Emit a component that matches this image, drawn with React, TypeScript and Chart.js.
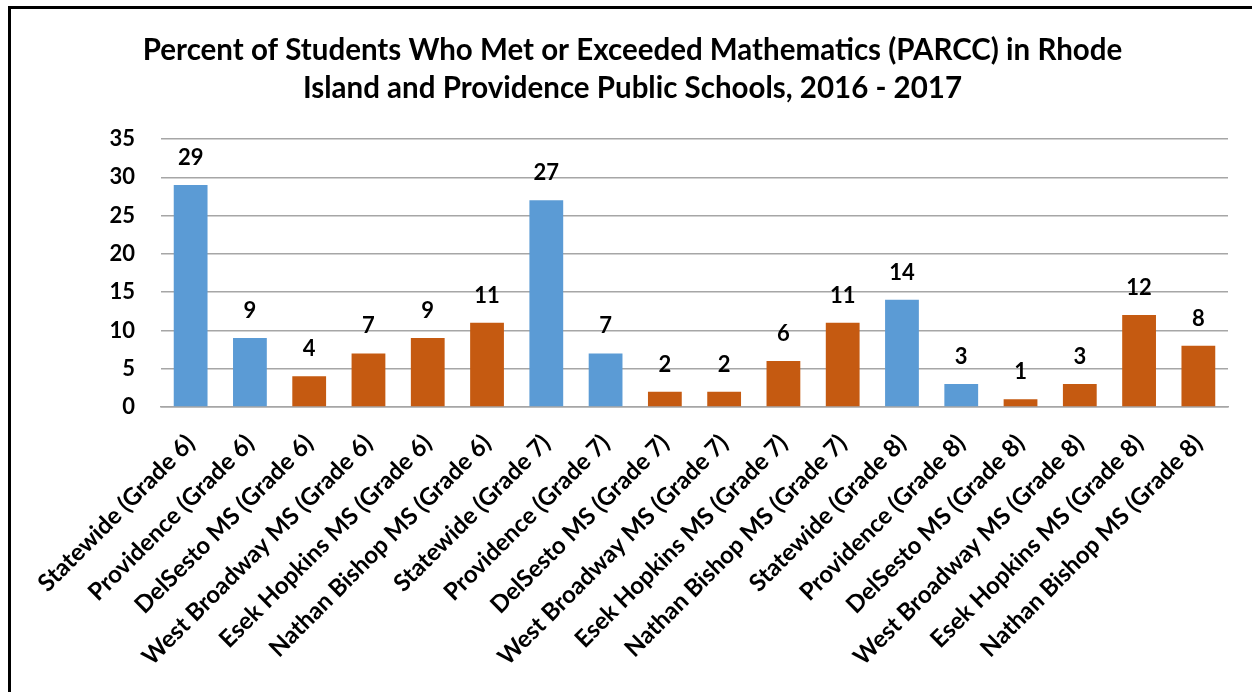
import { useEffect, useRef } from "react";
import { Chart, registerables } from "chart.js";

Chart.register(...registerables);

const titleLines = [
  "Percent of Students Who Met or Exceeded Mathematics (PARCC) in Rhode",
  "Island and Providence Public Schools, 2016 - 2017",
];

const categories = [
  "Statewide (Grade 6)",
  "Providence (Grade 6)",
  "DelSesto MS (Grade 6)",
  "West Broadway MS (Grade 6)",
  "Esek Hopkins MS (Grade 6)",
  "Nathan Bishop MS (Grade 6)",
  "Statewide (Grade 7)",
  "Providence (Grade 7)",
  "DelSesto MS (Grade 7)",
  "West Broadway MS (Grade 7)",
  "Esek Hopkins MS (Grade 7)",
  "Nathan Bishop MS (Grade 7)",
  "Statewide (Grade 8)",
  "Providence (Grade 8)",
  "DelSesto MS (Grade 8)",
  "West Broadway MS (Grade 8)",
  "Esek Hopkins MS (Grade 8)",
  "Nathan Bishop MS (Grade 8)",
];

const values = [29, 9, 4, 7, 9, 11, 27, 7, 2, 2, 6, 11, 14, 3, 1, 3, 12, 8];

const yMin = 0;
const yMax = 35;
const yStep = 5;

const BLUE = "#5B9BD5";
const ORANGE = "#C55A11";
const FONT = "Lato, 'Open Sans', sans-serif";

const barColors = categories.map((c) =>
  c.startsWith("Statewide") || c.startsWith("Providence") ? BLUE : ORANGE
);

const valueLabels = {
  id: "valueLabels",
  afterDatasetsDraw(chart: any) {
    const ctx = chart.ctx;
    const meta = chart.getDatasetMeta(0);
    ctx.save();
    ctx.font = `bold 22px ${FONT}`;
    ctx.fillStyle = "#000";
    ctx.textAlign = "center";
    ctx.textBaseline = "middle";
    meta.data.forEach((bar: any, i: number) => {
      ctx.fillText(String(values[i]), bar.x, bar.y - 27);
    });
    ctx.restore();
  },
};

export default function App() {
  const ref = useRef<HTMLCanvasElement | null>(null);

  useEffect(() => {
    if (!ref.current) return;
    const chart = new Chart(ref.current, {
      type: "bar",
      data: {
        labels: categories,
        datasets: [
          {
            data: values,
            backgroundColor: barColors,
            borderWidth: 0,
            categoryPercentage: 1,
            barPercentage: 0.57,
          },
        ],
      },
      options: {
        animation: false,
        responsive: false,
        maintainAspectRatio: false,
        layout: { padding: { left: 26, right: 24, top: 0, bottom: 0 } },
        plugins: {
          legend: { display: false },
          tooltip: { enabled: false },
          title: {
            display: true,
            text: titleLines,
            color: "#000",
            font: { family: FONT, size: 29.5, weight: "bold", lineHeight: 1.288 },
            padding: { top: 22, bottom: 32 },
          },
        },
        scales: {
          x: {
            grid: { display: false },
            border: { display: true, color: "#A6A6A6", width: 1.5 },
            ticks: {
              color: "#000",
              font: { family: FONT, size: 24, weight: "bold" },
              minRotation: 45,
              maxRotation: 45,
              autoSkip: false,
              padding: 14,
            },
            afterFit: (s: any) => {
              s.height = 285;
            },
          },
          y: {
            min: yMin,
            max: yMax,
            border: { display: false },
            grid: { color: "#A6A6A6", lineWidth: 1.5, drawTicks: false },
            ticks: {
              stepSize: yStep,
              color: "#000",
              font: { family: FONT, size: 22, weight: "bold" },
              padding: 26,
            },
            afterFit: (s: any) => {
              s.width = 124;
            },
          },
        },
      },
      plugins: [valueLabels],
    });
    return () => chart.destroy();
  }, []);

  return (
    <div
      style={{
        position: "absolute",
        left: 8,
        top: 6,
        borderLeft: "3px solid #000",
        borderTop: "3px solid #000",
        width: 1241,
        height: 683,
        background: "#fff",
      }}
    >
      <canvas ref={ref} width={1241} height={683} style={{ display: "block" }} />
    </div>
  );
}
